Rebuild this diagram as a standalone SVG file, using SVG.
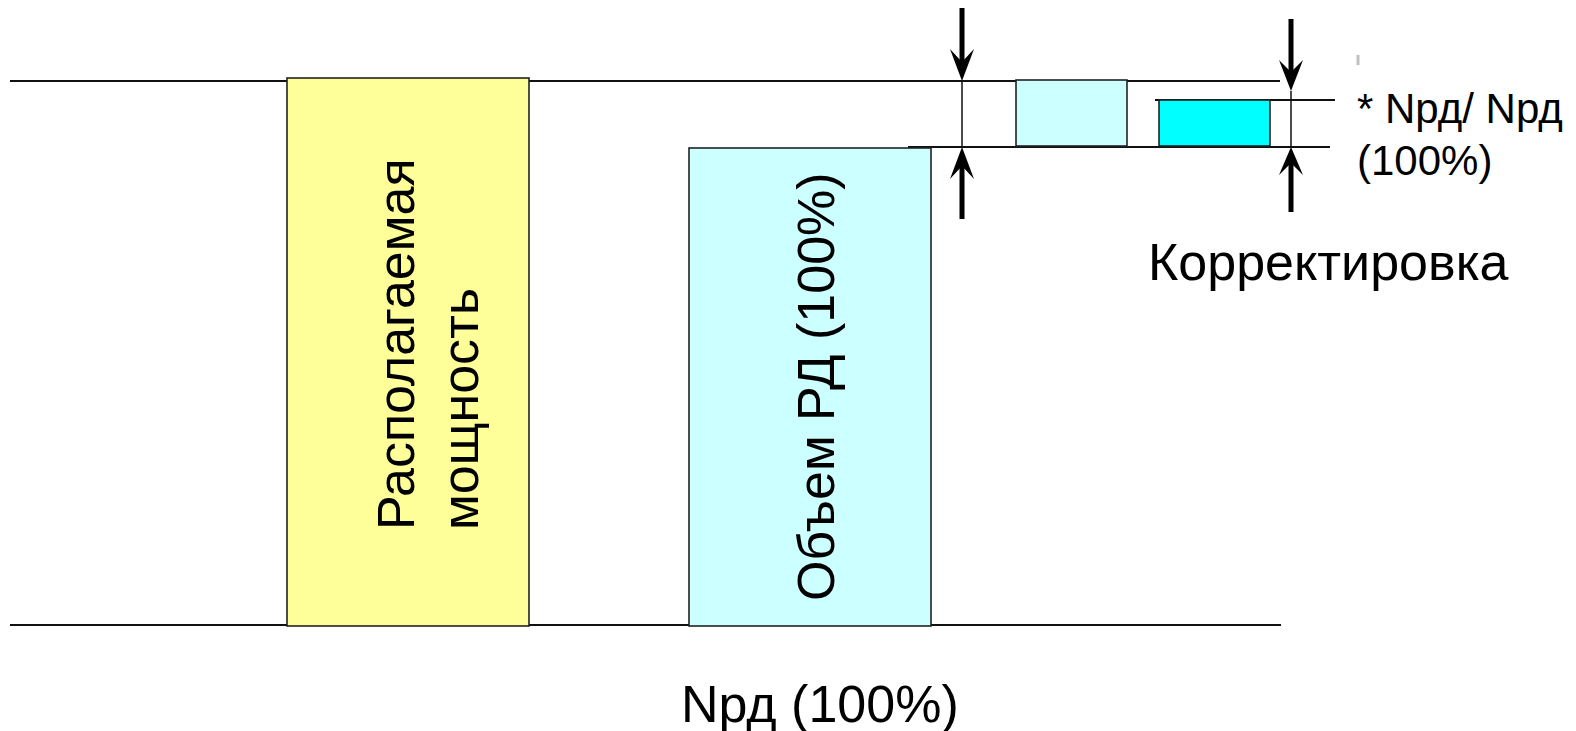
<svg xmlns="http://www.w3.org/2000/svg" width="1576" height="731" viewBox="0 0 1576 731">
<style>
.t{font-family:"Liberation Sans",Arial,sans-serif;fill:#000}
.ln{stroke:#111;stroke-width:2;fill:none}
.thin{stroke:#111;stroke-width:1.5;fill:none}
.box{stroke:#222;stroke-width:1.6}
.shaft{stroke:#000;stroke-width:5;fill:none}
.head{fill:#000}
</style>
<rect width="1576" height="731" fill="#fff"/>
<g id="connectors">
<line class="ln" x1="10" y1="81" x2="1280" y2="81"/>
<line class="ln" x1="10" y1="625" x2="1281" y2="625"/>
<line class="ln" x1="908" y1="147" x2="1330" y2="147"/>
<line class="ln" x1="1155" y1="100" x2="1335" y2="100"/>
</g>
<g id="box-available">
<rect class="box" x="287" y="78" width="242" height="548" fill="#FFFF99"/>
<text class="t" font-size="52" transform="translate(414,530) rotate(-90)">Располагаемая</text>
<text class="t" font-size="52" transform="translate(478,530) rotate(-90)">мощность</text>
</g>
<g id="box-volume">
<rect class="box" x="689" y="148" width="242" height="478" fill="#CCFFFF"/>
<text class="t" font-size="52" transform="translate(834,601) rotate(-90)">Объем РД (100%)</text>
</g>
<g id="box-small1">
<rect class="box" x="1016" y="80" width="111" height="66" fill="#CCFFFF"/>
</g>
<g id="box-small2">
<rect class="box" x="1159" y="100" width="111" height="46" fill="#00FFFF"/>
</g>
<g id="arrows">
<line class="shaft" x1="962" y1="8" x2="962" y2="66"/>
<polygon class="head" points="962,81 974,49 962,62 950,49"/>
<line class="thin" x1="962" y1="81" x2="962" y2="147"/>
<line class="shaft" x1="962" y1="162" x2="962" y2="219"/>
<polygon class="head" points="962,147 974,179 962,166 950,179"/>
<line class="shaft" x1="1291" y1="19" x2="1291" y2="76"/>
<polygon class="head" points="1291,91 1303,60 1291,72 1279,60"/>
<line class="thin" x1="1291" y1="91" x2="1291" y2="147"/>
<line class="shaft" x1="1291" y1="162" x2="1291" y2="212"/>
<polygon class="head" points="1291,147 1303,175 1291,163 1279,175"/>
</g>
<line x1="1358" y1="55" x2="1358" y2="65" stroke="#c0c0c0" stroke-width="3"/>
<g id="labels">
<text class="t" font-size="42" x="1357" y="123">* Nрд/ Nрд</text>
<text class="t" font-size="42" x="1357" y="175">(100%)</text>
<text class="t" font-size="52" x="1148" y="280">Корректировка</text>
<text class="t" font-size="52" x="681" y="722">Nрд (100%)</text>
</g>
</svg>
